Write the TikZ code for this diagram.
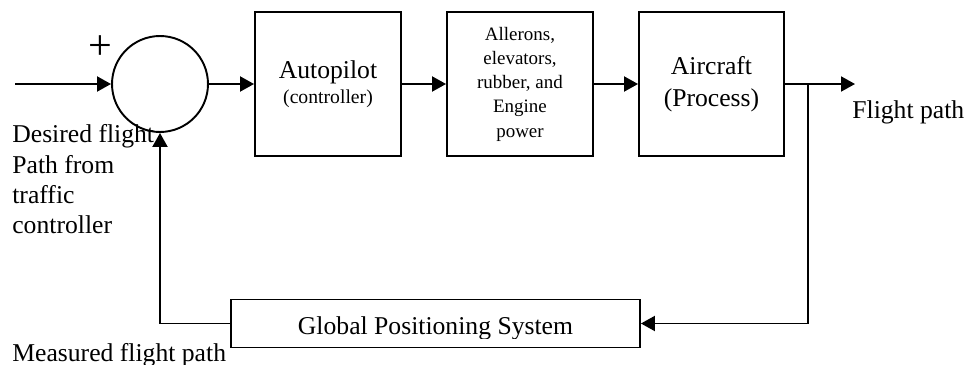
\documentclass[tikz,border=0pt]{standalone}
\usepackage{fontspec}
\setmainfont{Liberation Serif}
\usepackage{tikz}
\usetikzlibrary{shapes, arrows.meta, positioning}
\newcommand{\bigtext}{\fontsize{14.6}{17.2}\selectfont}
\newcommand{\smalltext}{\fontsize{10.8}{13.8}\selectfont}

\begin{document}
\begin{tikzpicture}
  [
    x=0.02cm, y=-0.02cm,
    Block/.style={rectangle, draw=black, line width=1.1pt, minimum width=2.92cm, minimum height=2.88cm, inner sep=0pt, align=center},
    Sum/.style={circle, draw=black, line width=1.1pt, minimum size=1.92cm, inner sep=0pt},
    Label/.style={inner sep=0pt, align=left, font=\bigtext},
    Arrow/.style={-{Triangle[length=0.28cm, width=0.3cm]}, draw, line width=1.1pt},
    Wire/.style={draw, line width=1.1pt}
  ]
  \useasboundingbox (0,0) rectangle (974,365);
  % Nodes
  \node[Sum] (sum) at(160, 84) {};
  \node[Block, font=\bigtext] (auto) at(328, 84) {Autopilot\\[-3pt]{\fontsize{11.2}{13}\selectfont (controller)}};
  \node[Block, font=\smalltext] (act) at(520, 84) {Allerons,\\elevators,\\rubber, and\\Engine\\power};
  \node[Block, minimum width=2.9cm, font=\bigtext] (plant) at(711.5, 84) {Aircraft\\[1.2pt](Process)};
  \node[rectangle, draw=black, line width=1.1pt, minimum width=8.18cm, minimum height=0.96cm, inner sep=0pt] (gps) at(435.5, 323.5) {};
  \begin{scope}
    \clip (231, 300) rectangle (640, 338);
    \node[inner sep=0pt, font=\bigtext, anchor=base] (gpstext) at(435.5, 334) {Global Positioning System};
  \end{scope}
  \coordinate (in) at(15, 84);
  \coordinate (out) at(855, 84);
  \coordinate (split) at(808, 84);
  \coordinate (down) at(808, 323.5);
  \coordinate (corner) at(160, 323.5);
  % Labels
  \node[inner sep=0pt, font=\fontsize{24}{24}\selectfont] (plus) at(100, 48) {+};
  \node[Label, anchor=north west] (desired) at(12, 124.5) {Desired flight\\Path from\\traffic\\controller};
  \node[Label, anchor=base west] (measured) at(12, 361) {Measured flight path};
  \node[Label, anchor=base west] (flight) at(852, 118) {Flight path};
  % Lines
  \path [Arrow] (in) -- (sum.west);
  \path [Arrow] (sum.east) -- (auto.west);
  \path [Arrow] (auto.east) -- (act.west);
  \path [Arrow] (act.east) -- (plant.west);
  \path [Arrow] (plant.east) -- (out);
  \path [Arrow] (split) -- (down) -- (gps.east);
  \path [Wire] (gps.west) -- (corner);
  \path [Arrow] (corner) -- (sum.south);
\end{tikzpicture}
\end{document}
